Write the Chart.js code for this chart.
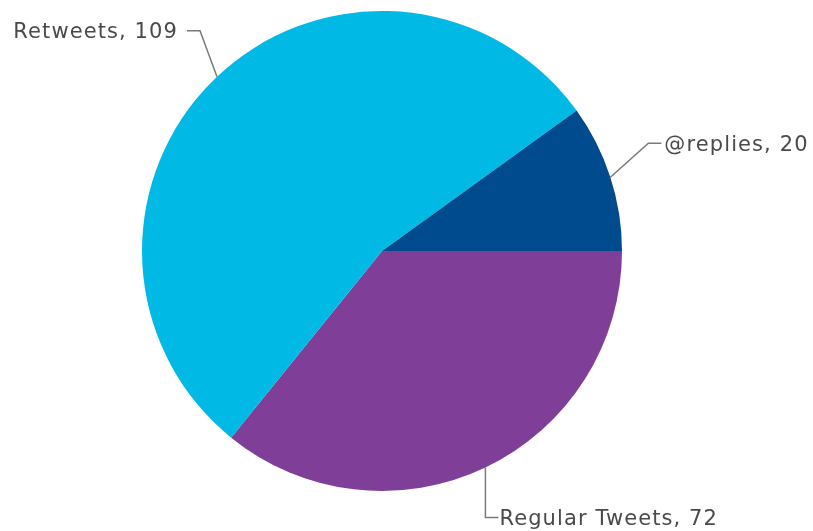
<!DOCTYPE html>
<html>
<head>
<meta charset="utf-8">
<script src="https://cdn.jsdelivr.net/npm/chart.js@4/dist/chart.umd.min.js"></script>
<style>
  html, body { margin: 0; padding: 0; background: #fff; }
  #chart { display: block; }
</style>
</head>
<body>
<canvas id="chart" width="813" height="531"></canvas>
<script>
// Tweet types (order = clockwise from 3 o'clock)
const categories = ['Regular Tweets', 'Retweets', '@replies'];
const tweetCounts = [72, 109, 20];
const sliceColors = ['#7f3f98', '#00b9e4', '#004b8d'];

// Leader line elbow offsets from the slice edge, and which side the label sits
const leaderStyle = [
    { dx: 0, dy: 50, side: 'right', gap: 1 },
    { dx: -17, dy: -46, side: 'left', gap: 9 },
    { dx: 38, dy: -34, side: 'right', gap: 3 }
];

// Draw "name, value" labels with elbow leader lines
const calloutPlugin = {
    id: 'callouts',
    afterDatasetsDraw(chart) {
        const ctx = chart.ctx;
        const meta = chart.getDatasetMeta(0);
        ctx.save();
        ctx.font = '21px "DejaVu Sans", Verdana, sans-serif';
        ctx.letterSpacing = '1.1px';
        ctx.textBaseline = 'middle';
        meta.data.forEach(function(arc, i) {
            const mid = (arc.startAngle + arc.endAngle) / 2;
            const x0 = arc.x + Math.cos(mid) * arc.outerRadius;
            const y0 = arc.y + Math.sin(mid) * arc.outerRadius;
            const st = leaderStyle[i];
            const x1 = x0 + st.dx;
            const y1 = y0 + st.dy;
            const x2 = st.side === 'right' ? x1 + 13 : x1 - 13;

            ctx.strokeStyle = '#7a7a7a';
            ctx.lineWidth = 1.5;
            ctx.beginPath();
            ctx.moveTo(x0, y0);
            ctx.lineTo(x1, y1);
            ctx.lineTo(x2, y1);
            ctx.stroke();

            ctx.fillStyle = '#4a4a4a';
            ctx.textAlign = st.side === 'right' ? 'left' : 'right';
            const tx = st.side === 'right' ? x2 + st.gap : x2 - st.gap;
            ctx.fillText(categories[i] + ', ' + tweetCounts[i], tx, y1 + 2);
        });
        ctx.restore();
    }
};

new Chart(document.getElementById('chart').getContext('2d'), {
    type: 'pie',
    data: {
        labels: categories,
        datasets: [{
            data: tweetCounts,
            backgroundColor: sliceColors,
            borderWidth: 0
        }]
    },
    options: {
        responsive: false,
        animation: false,
        rotation: 90,
        layout: {
            padding: { left: 142, right: 191, top: 11, bottom: 40 }
        },
        plugins: {
            legend: { display: false },
            tooltip: { enabled: false }
        }
    },
    plugins: [calloutPlugin]
});
</script>
</body>
</html>
